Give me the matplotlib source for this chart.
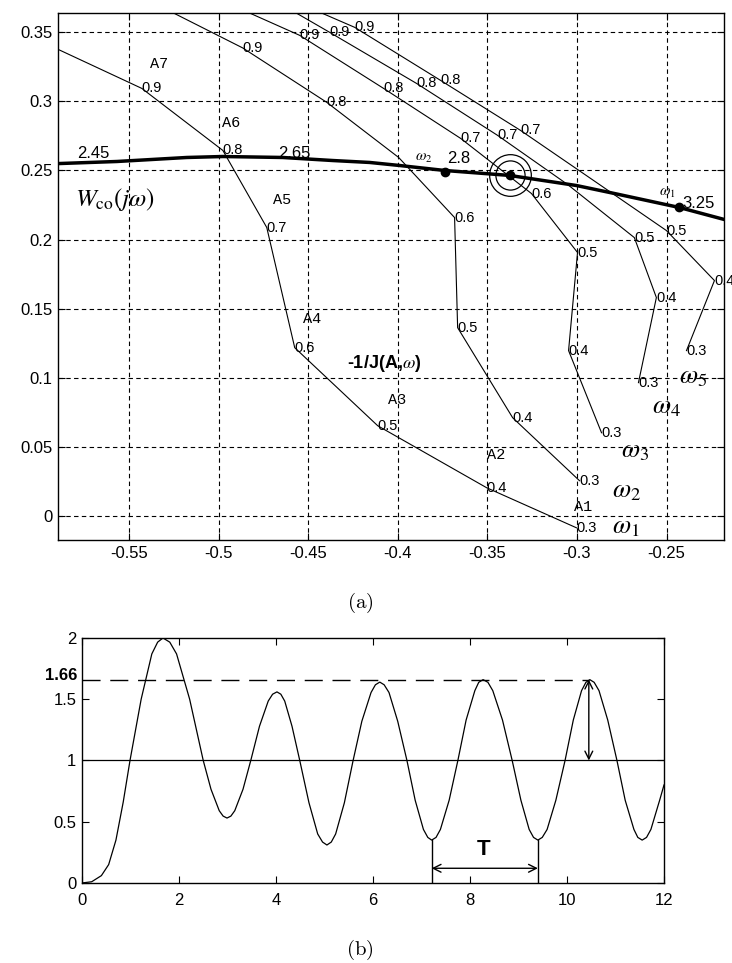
import numpy as np
import matplotlib.pyplot as plt
from matplotlib.transforms import blended_transform_factory

plt.rcParams['font.family'] = ['Liberation Sans', 'DejaVu Sans']
plt.rcParams['mathtext.fontset'] = 'stix'

# describing-function curves -1/J(A, w), one per frequency, A = 0.3 .. 1.0
A_vals = [0.3, 0.4, 0.5, 0.6, 0.7, 0.8, 0.9, 1.0]
w1_re = [-0.3003, -0.3504, -0.4112, -0.4575, -0.4731, -0.4976, -0.5428, -0.600]
w1_im = [-0.0087, 0.0203, 0.0652, 0.1217, 0.2087, 0.2645, 0.3094, 0.344]
w2_re = [-0.2986, -0.3359, -0.3666, -0.3683, -0.3995, -0.4396, -0.4865, -0.545]
w2_im = [0.0254, 0.0710, 0.1362, 0.2159, 0.2594, 0.2993, 0.3387, 0.377]
w3_re = [-0.2863, -0.3047, -0.2997, -0.3254, -0.3649, -0.4079, -0.4547, -0.500]
w3_im = [0.0601, 0.1196, 0.1906, 0.2333, 0.2732, 0.3094, 0.3478, 0.374]
w4_re = [-0.2657, -0.2557, -0.2680, -0.3053, -0.3443, -0.3895, -0.4380, -0.470]
w4_im = [0.0964, 0.1580, 0.2014, 0.2399, 0.2754, 0.3130, 0.3500, 0.374]
w5_re = [-0.2389, -0.2233, -0.2501, -0.2908, -0.3315, -0.3761, -0.4240, -0.455]
w5_im = [0.1196, 0.1703, 0.2065, 0.2428, 0.2790, 0.3152, 0.3536, 0.371]
# A values whose label is covered by other marks
w_hidden = [[], [0.7], [], [0.6], [0.6]]

# linear part W_co(jw)
wco_re = [-0.600, -0.5567, -0.5177, -0.4976, -0.4642, -0.4363, -0.4157, -0.3990,
          -0.3739, -0.3376, -0.3003, -0.2819, -0.2429, -0.2178, -0.210]
wco_im = [0.2545, 0.2565, 0.2594, 0.2601, 0.2594, 0.2572, 0.2558, 0.2536,
          0.2500, 0.2464, 0.2391, 0.2341, 0.2232, 0.2145, 0.2118]
freq_labels = ['2.45', '2.65', '2.8', '3.25']
freq_x = [-0.579, -0.467, -0.3722, -0.2412]
freq_y = [0.2587, 0.2587, 0.2551, 0.2225]
w2_pt = (-0.3739, 0.2486)
w1_pt = (-0.2429, 0.2232)
osc_pt = (-0.3376, 0.2464)

amp_names = ['A1', 'A2', 'A3', 'A4', 'A5', 'A6', 'A7']
amp_x = [-0.3014, -0.3504, -0.4056, -0.4530, -0.4697, -0.4982, -0.5383]
amp_y = [0.0036, 0.0413, 0.0812, 0.1399, 0.2254, 0.2812, 0.3239]

omega_x = [-0.2802, -0.2802, -0.2752, -0.2579, -0.2429]
omega_y = [-0.013, 0.013, 0.042, 0.0739, 0.0957]

# time response of the oscillating system
t = [0, 0.2, 0.4, 0.55, 0.7, 0.85, 0.99, 1.22, 1.44, 1.56, 1.67, 1.81, 1.95,
     2.22, 2.5, 2.66, 2.83, 2.91, 2.99, 3.07, 3.15, 3.32, 3.48, 3.66, 3.84,
     3.93, 4.02, 4.10, 4.18, 4.33, 4.49, 4.68, 4.86, 4.96, 5.05, 5.14, 5.23,
     5.41, 5.59, 5.77, 5.96, 6.05, 6.14, 6.23, 6.33, 6.51, 6.70, 6.87, 7.04,
     7.13, 7.21, 7.30, 7.39, 7.57, 7.75, 7.92, 8.10, 8.18, 8.27, 8.37, 8.47,
     8.67, 8.87, 9.05, 9.22, 9.31, 9.40, 9.49, 9.59, 9.77, 9.96, 10.13, 10.30,
     10.39, 10.47, 10.56, 10.66, 10.84, 11.03, 11.2, 11.38, 11.46, 11.55,
     11.64, 11.73, 11.91, 12.0]
y = [0, 0.01, 0.06, 0.15, 0.35, 0.66, 1.0, 1.5, 1.87, 1.966, 2.0, 1.966, 1.87,
     1.5, 1.0, 0.765, 0.59, 0.546, 0.53, 0.546, 0.59, 0.765, 1.0, 1.28, 1.485,
     1.541, 1.56, 1.541, 1.485, 1.28, 1.0, 0.655, 0.40, 0.334, 0.31, 0.334,
     0.40, 0.655, 1.0, 1.32, 1.555, 1.618, 1.64, 1.618, 1.555, 1.32, 1.0,
     0.675, 0.437, 0.372, 0.35, 0.372, 0.437, 0.675, 1.0, 1.33, 1.57, 1.638,
     1.66, 1.638, 1.57, 1.33, 1.0, 0.675, 0.437, 0.372, 0.35, 0.372, 0.437,
     0.675, 1.0, 1.33, 1.57, 1.638, 1.66, 1.638, 1.57, 1.33, 1.0, 0.675,
     0.437, 0.372, 0.35, 0.372, 0.437, 0.675, 0.80]
amp_level = 1.66
t_min1, t_min2, y_min = 7.21, 9.40, 0.35
t_peak = 10.45

fig = plt.figure(figsize=(7.32, 9.63), dpi=100)

# ---- (a) ----
ax = fig.add_axes([0.0792, 0.4393, 0.9098, 0.5472])
ax.set_xlim(-0.5896, -0.218)
ax.set_ylim(-0.0175, 0.364)
ax.set_xticks([-0.55, -0.5, -0.45, -0.4, -0.35, -0.3, -0.25])
ax.set_xticklabels(['-0.55', '-0.5', '-0.45', '-0.4', '-0.35', '-0.3', '-0.25'])
ax.set_yticks([0, 0.05, 0.1, 0.15, 0.2, 0.25, 0.3, 0.35])
ax.set_yticklabels(['0', '0.05', '0.1', '0.15', '0.2', '0.25', '0.3', '0.35'])
ax.grid(True, color='black', linestyle=(0, (4, 3)), linewidth=0.8)
ax.tick_params(direction='in', top=True, right=True, length=5, labelsize=12, pad=4)
for s in ax.spines.values():
    s.set_linewidth(1.0)

curves = [(w1_re, w1_im), (w2_re, w2_im), (w3_re, w3_im), (w4_re, w4_im), (w5_re, w5_im)]
for k, (re, im) in enumerate(curves):
    ax.plot(re, im, color='black', linewidth=0.8)
    for a, xr, yi in zip(A_vals, re, im):
        if a > 0.95 or a in w_hidden[k]:
            continue
        ax.annotate(f'{a:.1f}', (xr, yi), xytext=(0, 0), textcoords='offset points',
                    ha='left', va='center', fontsize=10.5)

ax.plot(wco_re, wco_im, color='black', linewidth=2.5)
for lab, fx, fy in zip(freq_labels, freq_x, freq_y):
    ax.text(fx, fy, lab, fontsize=12, ha='left', va='baseline')
ax.plot(*w2_pt, 'o', color='black', markersize=6)
ax.plot(*w1_pt, 'o', color='black', markersize=6)
ax.plot(*osc_pt, 'o', color='black', markersize=6)
ax.plot(*osc_pt, 'o', mfc='none', mec='black', markersize=21, mew=0.9)
ax.plot(*osc_pt, 'o', mfc='none', mec='black', markersize=30, mew=0.9)
ax.text(-0.3906, 0.2572, r'$\omega_2$', fontsize=11, ha='left', va='baseline')
ax.text(-0.2540, 0.2319, r'$\omega_1$', fontsize=11, ha='left', va='baseline')

for name, ax_, ay_ in zip(amp_names, amp_x, amp_y):
    ax.text(ax_, ay_, name, family='Liberation Mono', fontsize=11,
            ha='left', va='baseline')

for i, (ox, oy) in enumerate(zip(omega_x, omega_y)):
    ax.text(ox, oy, r'$\omega_{%d}$' % (i + 1), fontsize=19, ha='left', va='baseline')

ax.text(-0.5801, 0.2246, r'$W_{\mathrm{co}}(j\omega)$', fontsize=18,
        ha='left', va='baseline')
ax.text(-0.4285, 0.1072, r'-1/J(A,$\omega$)', fontsize=13, fontweight='bold',
        ha='left', va='baseline')

fig.text(0.492, 0.374, r'$\mathrm{(a)}$', fontsize=15, ha='center', va='center',
         math_fontfamily='cm')

# ---- (b) ----
bx = fig.add_axes([0.1120, 0.0831, 0.7951, 0.2544])
bx.set_xlim(0, 12)
bx.set_ylim(0, 2)
bx.set_xticks([0, 2, 4, 6, 8, 10, 12])
bx.set_yticks([0, 0.5, 1, 1.5, 2])
bx.set_yticklabels(['0', '0.5', '1', '1.5', '2'])
bx.tick_params(direction='in', top=True, right=True, length=5, labelsize=12)
bx.tick_params(axis='x', pad=7)
bx.tick_params(axis='y', pad=4)
for s in bx.spines.values():
    s.set_linewidth(1.0)

bx.plot(t, y, color='black', linewidth=0.9)
bx.axhline(1.0, color='black', linewidth=0.9)
bx.plot([0, t_peak], [amp_level, amp_level], color='black', linewidth=1.0,
        linestyle=(0, (13, 7)))
bx.annotate('', xy=(t_peak, 1.0), xytext=(t_peak, amp_level),
            arrowprops=dict(arrowstyle='<->', color='black', lw=1.0,
                            shrinkA=0, shrinkB=0, mutation_scale=14))
bx.plot([t_min1, t_min1], [0, y_min], color='black', linewidth=1.0)
bx.plot([t_min2, t_min2], [0, y_min], color='black', linewidth=1.0)
bx.annotate('', xy=(t_min1, 0.12), xytext=(t_min2, 0.12),
            arrowprops=dict(arrowstyle='<->', color='black', lw=1.0,
                            shrinkA=0, shrinkB=0, mutation_scale=14))
bx.text(8.27, 0.27, 'T', fontsize=16, fontweight='bold', ha='center', va='center')

tr = blended_transform_factory(bx.transAxes, bx.transData)
bx.text(-0.008, amp_level + 0.03, '1.66', transform=tr, fontsize=12,
        fontweight='bold', ha='right', va='center')

fig.text(0.492, 0.0135, r'$\mathrm{(b)}$', fontsize=15, ha='center', va='center',
         math_fontfamily='cm')

fig.savefig('out.png', dpi=100)
